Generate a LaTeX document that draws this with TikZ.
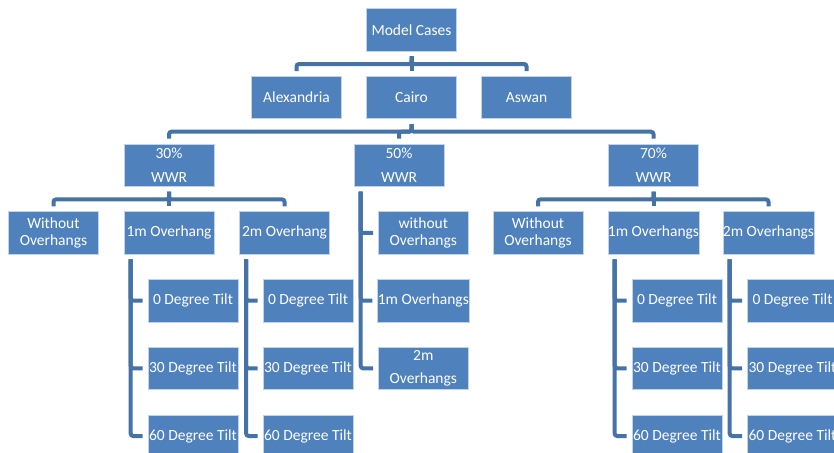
\documentclass[tikz,border=0pt]{standalone}
\usepackage{fontspec}
\setmainfont{Carlito}
\usetikzlibrary{positioning}
\definecolor{boxblue}{RGB}{79,129,189}
\definecolor{linkblue}{RGB}{69,114,167}

\begin{document}
\begin{tikzpicture}[x=1pt,y={(0pt,-1pt)},
  box/.style={rectangle,fill=boxblue,draw=white!65!boxblue,line width=0.6pt,text=white,
    minimum width=90pt,minimum height=42.4pt,inner sep=0pt,align=center,
    font=\fontsize{15.5}{17.5}\selectfont},
  conn/.style={draw=linkblue,line width=4pt,rounded corners=2.5pt,
    shorten <=5pt,shorten >=5pt}]
\fill[white] (0,0) rectangle (834,452);
\useasboundingbox (0,0) rectangle (834,452);
\node[box] (mc) at (411.5,29.8) {Model Cases};
\node[box] (alex) at (296.5,97.5) {Alexandria};
\node[box] (cairo) at (411.5,97.5) {Cairo};
\node[box] (aswan) at (526.5,97.5) {Aswan};
\node[box] (w30) at (169,165.2) {30\%\\[6.5pt]WWR};
\node[box] (w50) at (399,165.2) {50\%\\[6.5pt]WWR};
\node[box] (w70) at (653.5,165.2) {70\%\\[6.5pt]WWR};
% 30% WWR
\node[box] (a0) at (53.5,232.9) {Without\\Overhangs};
\node[box] (a1) at (169,232.9) {1m Overhang};
\node[box] (a2) at (284.5,232.9) {2m Overhang};
% 50% WWR
\node[box] (b0) at (423.3,232.9) {without\\Overhangs};
\node[box] (b1) at (423.3,300.6) {1m Overhangs};
\node[box] (b2) at (423.3,368.3) {2m\\[5pt]Overhangs};
% 70% WWR
\node[box] (c0) at (538,232.9) {Without\\Overhangs};
\node[box] (c1) at (653.5,232.9) {1m Overhangs};
\node[box] (c2) at (768.5,232.9) {2m Overhangs};
% tilt cases
\foreach \Nodo/\X in {a1/193,a2/308,c1/677,c2/792.5}
 \foreach \T/\Y in {0/300.6,30/368.3,60/436}{
  \node[box] (\Nodo-\T) at (\X,\Y) {\T\ Degree Tilt};
  \draw[conn] ([xshift=7pt]\Nodo.south west) |- (\Nodo-\T.west);
 }
\foreach \Nodo in {alex,cairo,aswan}
 \draw[conn] (mc.south) -- ++(0,12.7) -| (\Nodo.north);
\foreach \Nodo in {w30,w50,w70}
 \draw[conn] (cairo.south) -- ++(0,12.7) -| (\Nodo.north);
\foreach \Nodo in {a0,a1,a2}
 \draw[conn] (w30.south) -- ++(0,12.7) -| (\Nodo.north);
\foreach \Nodo in {c0,c1,c2}
 \draw[conn] (w70.south) -- ++(0,12.7) -| (\Nodo.north);
\foreach \Nodo in {b0,b1,b2}
 \draw[conn] ([xshift=7pt]w50.south west) |- (\Nodo.west);
\end{tikzpicture}
\end{document}
